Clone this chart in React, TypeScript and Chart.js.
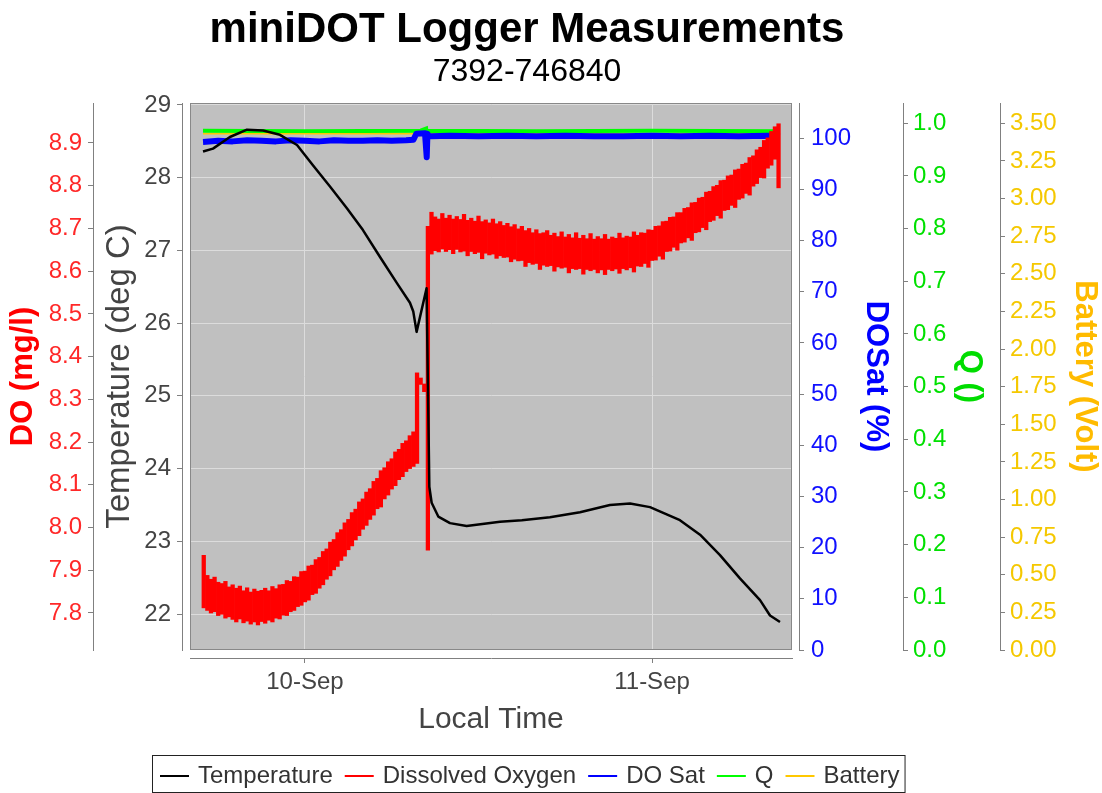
import { useEffect, useRef } from 'react';
import { Chart, registerables } from 'chart.js';

Chart.register(...registerables);

const FONT = '"Liberation Sans", Arial, Helvetica, sans-serif';

const TITLE = 'miniDOT Logger Measurements';
const SUBTITLE = '7392-746840';

// x axis: hours relative to 10-Sep 00:00 local time
const X_MIN = -7.95;
const X_MAX = 33.68;
const xTickValues = [0, 24];
const xTickLabels = ['10-Sep', '11-Sep'];

// axis ranges
const TEMP_MIN = 21.505;
const TEMP_MAX = 29.0275;
const DO_MIN = 7.7134;
const DO_MAX = 8.9936;
const SAT_MIN = 0;
const SAT_MAX = 106.9;
const Q_MIN = 0;
const Q_MAX = 1.0385;
const BAT_MIN = 0;
const BAT_MAX = 3.635;

// tick values
const tempTicks = [22, 23, 24, 25, 26, 27, 28, 29];
const doTicks = [7.8, 7.9, 8.0, 8.1, 8.2, 8.3, 8.4, 8.5, 8.6, 8.7, 8.8, 8.9];
const satTicks = [0, 10, 20, 30, 40, 50, 60, 70, 80, 90, 100];
const qTicks = [0, 0.1, 0.2, 0.3, 0.4, 0.5, 0.6, 0.7, 0.8, 0.9, 1.0];
const batTicks = [0, 0.25, 0.5, 0.75, 1.0, 1.25, 1.5, 1.75, 2.0, 2.25, 2.5, 2.75, 3.0, 3.25, 3.5];

// Temperature (deg C)
const tempTimes = [-7.05, -6.36, -5.19, -4.01, -2.9, -1.73, -0.55, 0.55, 1.73, 2.9, 4.01, 5.19, 6.36, 7.26, 7.49, 7.72, 8.41, 8.6, 8.76, 9.22, 10.03, 11.18, 13.49, 15.0, 16.94, 19.02, 21.09, 22.48, 23.86, 25.93, 27.32, 28.7, 30.08, 31.47, 32.16, 32.85];
const tempValues = [28.36, 28.4, 28.56, 28.66, 28.65, 28.59, 28.45, 28.17, 27.88, 27.58, 27.28, 26.91, 26.55, 26.28, 26.16, 25.88, 26.48, 23.75, 23.53, 23.34, 23.25, 23.21, 23.27, 23.29, 23.33, 23.4, 23.5, 23.52, 23.47, 23.29, 23.09, 22.81, 22.49, 22.19, 21.98, 21.89];

// Dissolved oxygen (mg/l): low / high of the noisy record in each logging bin
const doStartHour = -7.0;
const doIntervalHours = 0.25;
const doLow = [
  7.812, 7.806, 7.8, 7.803, 7.794, 7.797, 7.788, 7.791, 7.785, 7.779,
  7.786, 7.777, 7.781, 7.774, 7.779, 7.772, 7.78, 7.776, 7.783, 7.779,
  7.788, 7.786, 7.795, 7.794, 7.803, 7.806, 7.815, 7.818, 7.826, 7.83,
  7.843, 7.846, 7.858, 7.866, 7.879, 7.887, 7.901, 7.909, 7.923, 7.933,
  7.948, 7.957, 7.971, 7.981, 7.996, 8.005, 8.019, 8.029, 8.044, 8.048,
  8.067, 8.076, 8.09, 8.098, 8.112, 8.119, 8.131, 8.138,
  8.143, 8.15, 8.335, 8.318, 7.947,
  8.64, 8.648, 8.645, 8.652, 8.646, 8.65, 8.641, 8.651, 8.645, 8.647,
  8.636, 8.646, 8.641, 8.644, 8.629, 8.642, 8.638, 8.64, 8.63, 8.636,
  8.632, 8.633, 8.622, 8.628, 8.624, 8.625, 8.611, 8.62, 8.616, 8.618,
  8.604, 8.614, 8.611, 8.613, 8.6, 8.61, 8.607, 8.609, 8.596, 8.606,
  8.604, 8.606, 8.593, 8.604, 8.601, 8.604, 8.596, 8.603, 8.592, 8.604,
  8.601, 8.605, 8.595, 8.606, 8.603, 8.608, 8.598, 8.612, 8.611, 8.618,
  8.609, 8.625, 8.626, 8.635, 8.628, 8.646, 8.647, 8.656, 8.649, 8.666,
  8.668, 8.678, 8.672, 8.69, 8.692, 8.702, 8.697, 8.716, 8.719, 8.73,
  8.724, 8.742, 8.744, 8.754, 8.749, 8.768, 8.771, 8.782, 8.778, 8.799,
  8.805, 8.819, 8.818, 8.841, 8.848, 8.862, 8.795,
];
const doHigh = [
  7.935, 7.888, 7.879, 7.884, 7.872, 7.869, 7.874, 7.861, 7.866, 7.858,
  7.863, 7.852, 7.859, 7.849, 7.856, 7.851, 7.853, 7.858, 7.852, 7.862,
  7.857, 7.866, 7.867, 7.876, 7.874, 7.885, 7.884, 7.897, 7.898, 7.91,
  7.912, 7.925, 7.93, 7.944, 7.95, 7.966, 7.972, 7.988, 7.995, 8.011,
  8.019, 8.035, 8.043, 8.06, 8.067, 8.083, 8.091, 8.108, 8.115, 8.133,
  8.14, 8.154, 8.161, 8.177, 8.183, 8.197, 8.203, 8.215,
  8.224, 8.362, 8.35, 8.336, 8.705,
  8.738, 8.727, 8.722, 8.735, 8.724, 8.731, 8.722, 8.728, 8.721, 8.733,
  8.719, 8.724, 8.717, 8.729, 8.716, 8.72, 8.713, 8.722, 8.711, 8.716,
  8.707, 8.712, 8.704, 8.709, 8.699, 8.705, 8.695, 8.7, 8.69, 8.697,
  8.688, 8.69, 8.695, 8.684, 8.689, 8.681, 8.692, 8.68, 8.686, 8.678,
  8.69, 8.677, 8.684, 8.676, 8.688, 8.675, 8.681, 8.676, 8.686, 8.675,
  8.68, 8.677, 8.689, 8.678, 8.682, 8.68, 8.692, 8.684, 8.69, 8.689,
  8.697, 8.696, 8.705, 8.706, 8.716, 8.717, 8.726, 8.727, 8.737, 8.737,
  8.747, 8.749, 8.76, 8.761, 8.771, 8.773, 8.785, 8.787, 8.798, 8.801,
  8.812, 8.813, 8.823, 8.825, 8.837, 8.839, 8.85, 8.853, 8.866, 8.87,
  8.884, 8.89, 8.906, 8.912, 8.927, 8.938, 8.945,
];

// DO saturation (%)
const satTimes = [-7.05, -6, -5, -4, -3, -2, -1, 0, 1, 2, 3, 4, 5, 6, 7, 7.5, 7.7, 8.3, 8.42, 8.47, 8.55, 8.7, 10, 12, 14, 16, 18, 20, 22, 24, 26, 28, 30, 32, 32.85];
const satValues = [99.3, 99.5, 99.4, 99.6, 99.5, 99.4, 99.6, 99.5, 99.4, 99.6, 99.5, 99.5, 99.6, 99.5, 99.6, 99.7, 100.9, 101.0, 96.3, 100.9, 100.5, 100.4, 100.5, 100.4, 100.5, 100.4, 100.5, 100.4, 100.4, 100.5, 100.4, 100.5, 100.4, 100.5, 100.4];

// Q ()
const qTimes = [-7.05, 0, 8.0, 8.38, 8.44, 8.5, 16, 24, 32.85];
const qValues = [0.986, 0.985, 0.986, 0.99, 0.975, 0.986, 0.985, 0.986, 0.985];

// Battery (Volt)
const batTimes = [-7.05, 8.38, 8.44, 8.5, 32.85];
const batValues = [3.43, 3.43, 3.36, 3.43, 3.43];

const seriesLabels = ['Temperature', 'Dissolved Oxygen', 'DO Sat', 'Q', 'Battery'];
const seriesColors = ['#000000', '#ff0000', '#0000ff', '#00ff00', '#ffc800'];

const AXIS_GRAY = '#808080';
const GRID = '#dcdcdc';

function spacer(position: string, size: number) {
  return {
    type: 'linear',
    axis: position === 'bottom' ? 'x' : 'y',
    position,
    display: true,
    grid: { display: false, drawTicks: false },
    border: { display: false },
    ticks: { display: false },
    afterFit: (s: any) => {
      if (s.isHorizontal()) s.height = size;
      else s.width = size;
    },
  };
}

function valueAxis(opts: {
  position: string; min: number; max: number; ticksArr: number[]; digits: number;
  color: string; padding: number; width: number; title: string; titleColor: string;
  titlePad: number; titleSize: number; bold: boolean; gridOnArea: boolean;
}) {
  return {
    type: 'linear',
    axis: 'y',
    position: opts.position,
    min: opts.min,
    max: opts.max,
    afterBuildTicks: (s: any) => { s.ticks = opts.ticksArr.map((v) => ({ value: v })); },
    ticks: {
      color: opts.color,
      font: { size: 24 },
      padding: opts.padding,
      autoSkip: false,
      callback: (v: any) => Number(v).toFixed(opts.digits),
    },
    grid: {
      drawOnChartArea: opts.gridOnArea,
      offset: false,
      color: GRID,
      tickColor: AXIS_GRAY,
      tickLength: 5,
      lineWidth: 1,
    },
    border: { display: true, color: AXIS_GRAY, width: 1 },
    title: {
      display: true,
      text: opts.title,
      color: opts.titleColor,
      font: { size: opts.titleSize, weight: opts.bold ? 'bold' : 'normal', lineHeight: 1 },
      padding: { top: opts.titlePad, bottom: 0 },
    },
    afterFit: (s: any) => { s.width = opts.width; },
  };
}

const decor = {
  id: 'decor',
  beforeDraw(chart: any) {
    const { ctx, chartArea: a, width, height } = chart;
    ctx.save();
    ctx.fillStyle = '#ffffff';
    ctx.fillRect(0, 0, width, height);
    ctx.fillStyle = '#c0c0c0';
    ctx.fillRect(a.left, a.top, a.right - a.left, a.bottom - a.top);
    ctx.restore();
  },
  afterDatasetsDraw(chart: any) {
    const { ctx, chartArea: a } = chart;
    ctx.save();
    ctx.strokeStyle = '#888888';
    ctx.lineWidth = 1;
    ctx.strokeRect(a.left + 0.5, a.top + 0.5, a.right - a.left - 1, a.bottom - a.top - 1);
    ctx.restore();
  },
  afterDraw(chart: any) {
    const ctx = chart.ctx;
    ctx.save();
    ctx.fillStyle = '#000000';
    ctx.textAlign = 'center';
    ctx.textBaseline = 'alphabetic';
    ctx.font = `bold 42px ${FONT}`;
    ctx.fillText(TITLE, 527, 42);
    ctx.font = `32px ${FONT}`;
    ctx.fillText(SUBTITLE, 527, 81);

    // legend
    ctx.font = `24px ${FONT}`;
    ctx.textAlign = 'left';
    ctx.textBaseline = 'middle';
    const dashLen = 29;
    const gapText = 9;
    const gapItem = 12;
    const yMid = 776;
    let x = 160;
    seriesLabels.forEach((label, i) => {
      ctx.strokeStyle = seriesColors[i];
      ctx.lineWidth = 2;
      ctx.beginPath();
      ctx.moveTo(x, yMid);
      ctx.lineTo(x + dashLen, yMid);
      ctx.stroke();
      x += dashLen + gapText;
      ctx.fillStyle = '#333333';
      ctx.fillText(label, x, yMid);
      x += ctx.measureText(label).width + gapItem;
    });
    const right = x - gapItem + 5;
    ctx.strokeStyle = '#222222';
    ctx.lineWidth = 1;
    ctx.strokeRect(152.5, 755.5, right - 152, 37);
    ctx.restore();
  },
};

export default function App() {
  const ref = useRef<HTMLCanvasElement>(null);

  useEffect(() => {
    document.body.style.margin = '0';
    const canvas = ref.current;
    if (!canvas) return;
    Chart.defaults.font.family = FONT;

    const toXY = (ts: number[], vs: number[]) => ts.map((t, i) => ({ x: t, y: vs[i] }));
    const doData = doLow.map((lo, i) => ({ x: doStartHour + i * doIntervalHours, y: [lo, doHigh[i]] }));

    const chart = new Chart(canvas, {
      type: 'line',
      data: {
        datasets: [
          {
            type: 'line', label: seriesLabels[0], data: toXY(tempTimes, tempValues),
            xAxisID: 'x', yAxisID: 'yT', borderColor: seriesColors[0], borderWidth: 2.5,
            pointRadius: 0, tension: 0, order: 0, borderJoinStyle: 'round',
          },
          {
            type: 'bar', label: seriesLabels[1], data: doData as any,
            xAxisID: 'x', yAxisID: 'yDO', backgroundColor: seriesColors[1], borderWidth: 0,
            barPercentage: 1, categoryPercentage: 1, grouped: false, order: 1,
          },
          {
            type: 'line', label: seriesLabels[2], data: toXY(satTimes, satValues),
            xAxisID: 'x', yAxisID: 'ySat', borderColor: seriesColors[2], borderWidth: 6,
            pointRadius: 0, tension: 0, order: 2, borderJoinStyle: 'round',
          },
          {
            type: 'line', label: seriesLabels[3], data: toXY(qTimes, qValues),
            xAxisID: 'x', yAxisID: 'yQ', borderColor: seriesColors[3], borderWidth: 4,
            pointRadius: 0, tension: 0, order: 4,
          },
          {
            type: 'line', label: seriesLabels[4], data: toXY(batTimes, batValues),
            xAxisID: 'x', yAxisID: 'yB', borderColor: seriesColors[4], borderWidth: 1.5,
            pointRadius: 0, tension: 0, order: 3,
          },
        ],
      } as any,
      options: {
        responsive: false,
        animation: false,
        events: [],
        layout: { padding: { top: 103, bottom: 53, left: 0, right: 0 } },
        plugins: {
          legend: { display: false },
          title: { display: false },
          tooltip: { enabled: false },
        },
        scales: {
          spL: spacer('left', 8),
          yT: valueAxis({
            position: 'left', min: TEMP_MIN, max: TEMP_MAX, ticksArr: tempTicks, digits: 0,
            color: '#444444', padding: 6, width: 89, title: 'Temperature (deg C)', titleColor: '#444444',
            titlePad: 10.5, titleSize: 33, bold: false, gridOnArea: true,
          }),
          yDO: valueAxis({
            position: 'left', min: DO_MIN, max: DO_MAX, ticksArr: doTicks, digits: 1,
            color: '#ff2828', padding: 6, width: 93, title: 'DO (mg/l)', titleColor: '#ff0000',
            titlePad: 7.5, titleSize: 31, bold: true, gridOnArea: false,
          }),
          spR: spacer('right', 7),
          ySat: valueAxis({
            position: 'right', min: SAT_MIN, max: SAT_MAX, ticksArr: satTicks, digits: 0,
            color: '#1010ff', padding: 7, width: 104, title: 'DOSat (%)', titleColor: '#0000ff',
            titlePad: 11.5, titleSize: 31, bold: true, gridOnArea: false,
          }),
          yQ: valueAxis({
            position: 'right', min: Q_MIN, max: Q_MAX, ticksArr: qTicks, digits: 1,
            color: '#00e000', padding: 5, width: 97, title: 'Q ()', titleColor: '#00dd00',
            titlePad: 15, titleSize: 31, bold: true, gridOnArea: false,
          }),
          yB: valueAxis({
            position: 'right', min: BAT_MIN, max: BAT_MAX, ticksArr: batTicks, digits: 2,
            color: '#f5c800', padding: 5, width: 102, title: 'Battery (Volt)', titleColor: '#ffbb00',
            titlePad: 1.5, titleSize: 31, bold: true, gridOnArea: false,
          }),
          spB: spacer('bottom', 8),
          x: {
            type: 'linear',
            axis: 'x',
            position: 'bottom',
            min: X_MIN,
            max: X_MAX,
            offset: false,
            afterBuildTicks: (s: any) => { s.ticks = xTickValues.map((v) => ({ value: v })); },
            ticks: {
              color: '#444444',
              font: { size: 24 },
              padding: 5,
              autoSkip: false,
              maxRotation: 0,
              align: 'center',
              callback: (v: any) => {
                const i = xTickValues.indexOf(Number(v));
                return i >= 0 ? xTickLabels[i] : '';
              },
            },
            grid: {
              drawOnChartArea: true, offset: false, color: GRID, tickColor: AXIS_GRAY,
              tickLength: 5, lineWidth: 1,
            },
            border: { display: true, color: AXIS_GRAY, width: 1 },
            title: {
              display: true,
              text: 'Local Time',
              color: '#444444',
              font: { size: 30, lineHeight: 1 },
              padding: { top: 0, bottom: 5.5 },
            },
            afterFit: (s: any) => { s.height = 82; },
          },
        } as any,
      },
      plugins: [decor],
    });

    return () => chart.destroy();
  }, []);

  return <canvas ref={ref} width={1102} height={793} style={{ display: 'block' }} />;
}
